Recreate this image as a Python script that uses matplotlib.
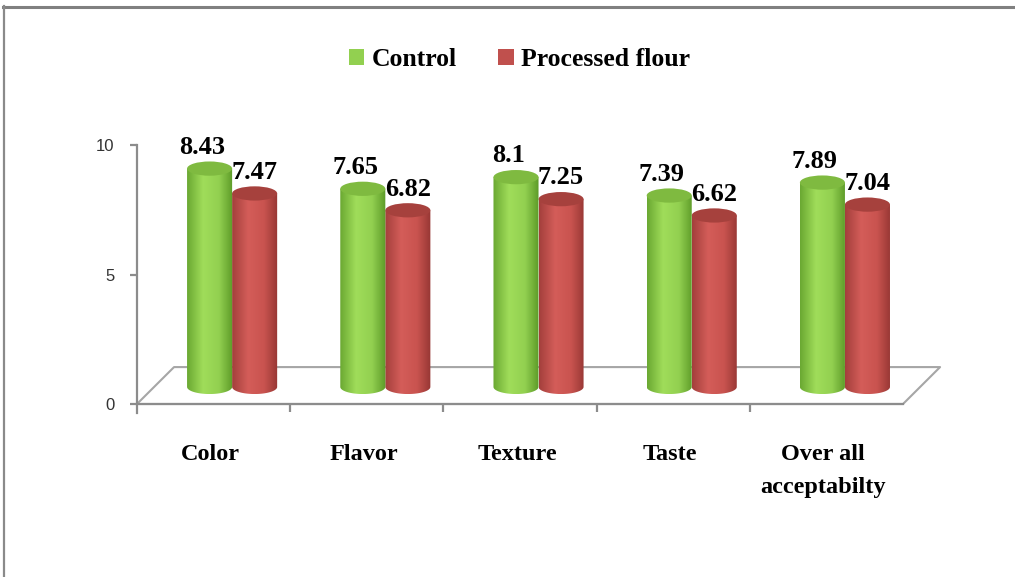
import matplotlib
matplotlib.use("Agg")
import matplotlib.pyplot as plt
import numpy as np
from matplotlib.patches import Ellipse, Polygon, Patch
from matplotlib.colors import to_rgb
from matplotlib.lines import Line2D

categories = ["Color", "Flavor", "Texture", "Taste", "Over all\nacceptabilty"]
control = [8.43, 7.65, 8.1, 7.39, 7.89]
processed = [7.47, 6.82, 7.25, 6.62, 7.04]
series_names = ["Control", "Processed flour"]
y_ticks = [0, 5, 10]

# body gradient stops (left edge, highlight, right edge) and cap colour
GREEN = dict(stops=["#6aa832", "#a0dd5a", "#92d050", "#5c9a28"], cap="#7fba40")
RED = dict(stops=["#a33f3c", "#d45d59", "#c9534f", "#963734"], cap="#a6413d")

SERIF = "Liberation Serif"
GRAY = "#8c8c8c"

# 3-D look: half the floor depth, in data units
DX, DY = 0.121, 0.66
BAR_W = 0.294
CAP_H = 0.55


def cylinder(ax, xc, value, style, z):
    x0, x1 = xc - BAR_W / 2, xc + BAR_W / 2
    base, top = DY, DY + value
    t = np.linspace(np.pi, 2 * np.pi, 60)
    bottom = np.column_stack([xc + BAR_W / 2 * np.cos(t), base + CAP_H / 2 * np.sin(t)])
    pts = np.vstack([bottom, [[x1, top], [x0, top]]])
    body = Polygon(pts, closed=True, facecolor="none", edgecolor="none", zorder=z)
    ax.add_patch(body)

    # horizontal shading across the cylinder
    cols = np.array([to_rgb(c) for c in style["stops"]])
    pos = np.array([0.0, 0.35, 0.7, 1.0])
    u = np.linspace(0, 1, 200)
    grad = np.stack([np.interp(u, pos, cols[:, k]) for k in range(3)], axis=-1)[None, :, :]
    im = ax.imshow(grad, extent=[x0, x1, base - CAP_H / 2, top], aspect="auto",
                   origin="lower", zorder=z, interpolation="bilinear")
    im.set_clip_path(body)

    ax.add_patch(Ellipse((xc, top), BAR_W, CAP_H, facecolor=style["cap"],
                         edgecolor="none", zorder=z + 0.1))


fig = plt.figure(figsize=(10.15, 5.77), dpi=100)
ax = fig.add_axes([0, 0, 1, 1])
ax.set_xlim(-1.394, 5.231)
ax.set_ylim(-6.68, 15.6)

# frame around the chart area
fig.add_artist(Line2D([0.003, 1.0], [0.9878, 0.9878], transform=fig.transFigure,
                      color="#808080", lw=2.2))
fig.add_artist(Line2D([0.0035, 0.0035], [0.0, 0.989], transform=fig.transFigure,
                      color="#8a8a8a", lw=1.6))

# floor outline
n = len(categories)
fx = [-0.5, n - 0.5, n - 0.5 + 2 * DX, -0.5 + 2 * DX, -0.5]
fy = [0, 0, 2 * DY * 1.08, 2 * DY * 1.08, 0]
ax.plot(fx, fy, color="#a6a6a6", lw=1.5, zorder=1)

# axes drawn through the spines
for s in ["top", "right"]:
    ax.spines[s].set_visible(False)
ax.spines["left"].set_position(("data", -0.5))
ax.spines["left"].set_bounds(-0.35, 10)
ax.spines["bottom"].set_position(("data", 0))
ax.spines["bottom"].set_bounds(-0.5, n - 0.5)
for s in ["left", "bottom"]:
    ax.spines[s].set_color(GRAY)
    ax.spines[s].set_linewidth(1.6)
    ax.spines[s].set_zorder(1)
ax.set_yticks(y_ticks)
ax.set_yticklabels([str(v) for v in y_ticks], fontname="Liberation Sans", fontsize=12, color="#333333")
ax.set_xticks(np.arange(n - 1) + 0.5)
ax.set_xticklabels([])
ax.tick_params(axis="y", length=5, width=1.6, color=GRAY, pad=11)
ax.tick_params(axis="x", length=6, width=1.6, color=GRAY, direction="out")

for i in range(n):
    xg = i + DX - BAR_W / 2
    xr = i + DX + BAR_W / 2
    cylinder(ax, xr, processed[i], RED, 2)
    cylinder(ax, xg, control[i], GREEN, 3)
    ax.text(xg - 0.05, DY + control[i] + CAP_H / 2 + 0.1, f"{control[i]:g}", ha="center",
            va="bottom", fontname=SERIF, fontweight="bold", fontsize=19, zorder=5)
    ax.text(xr, DY + processed[i] + CAP_H / 2 + 0.1, f"{processed[i]:g}", ha="center",
            va="bottom", fontname=SERIF, fontweight="bold", fontsize=19, zorder=5)
    ax.text(i - 0.02, -1.55, categories[i], ha="center", va="top", fontname=SERIF,
            fontweight="bold", fontsize=17.5, linespacing=1.75)

handles = [Patch(facecolor="#92d050", edgecolor="none"),
           Patch(facecolor="#c0504d", edgecolor="none")]
fig.legend(handles, series_names, loc="center", bbox_to_anchor=(0.512, 0.897),
           ncol=2, frameon=False, handlelength=0.6, handleheight=0.6,
           handletextpad=0.3, columnspacing=1.6,
           prop={"family": SERIF, "weight": "bold", "size": 18.5})

fig.savefig("out.png", dpi=100)
